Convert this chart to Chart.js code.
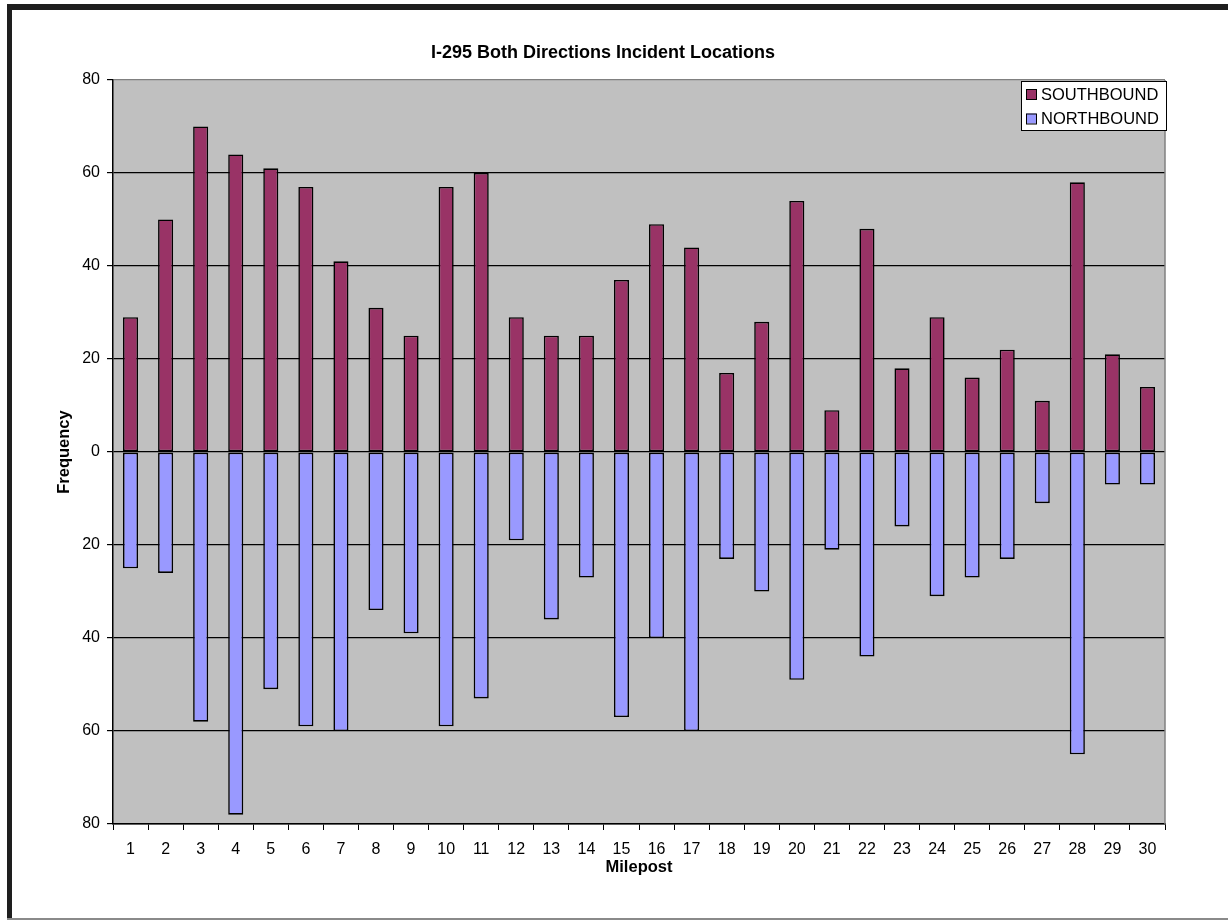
<!DOCTYPE html>
<html>
<head>
<meta charset="utf-8">
<script src="https://cdn.jsdelivr.net/npm/chart.js@4/dist/chart.umd.min.js"></script>
<style>
  html, body { margin: 0; padding: 0; background: #fff; }
  #wrap { position: relative; width: 1228px; height: 921px; overflow: hidden; }
  canvas { position: absolute; left: 0; top: 0; }
  .fr { position: absolute; }
</style>
</head>
<body>
<div id="wrap">
  <canvas id="c" width="1228" height="921"></canvas>
  <div class="fr" style="left:7px;top:4px;width:1221px;height:6px;background:#1e1e1e;"></div>
  <div class="fr" style="left:7px;top:4px;width:5px;height:916px;background:#1e1e1e;"></div>
  <div class="fr" style="left:7px;top:918px;width:1221px;height:2px;background:#8a8a8a;"></div>
</div>
<script>
const chartTitle = 'I-295 Both Directions Incident Locations';
const xAxisTitle = 'Milepost';
const yAxisTitle = 'Frequency';
const mileposts = ['1','2','3','4','5','6','7','8','9','10','11','12','13','14','15','16','17','18','19','20','21','22','23','24','25','26','27','28','29','30'];
const southbound = [29,50,70,64,61,57,41,31,25,57,60,29,25,25,37,49,44,17,28,54,9,48,18,29,16,22,11,58,21,14];
const northbound = [25,26,58,78,51,59,60,34,39,59,53,19,36,27,57,40,60,23,30,49,21,44,16,31,27,23,11,65,7,7];
const yTicks = [-80,-60,-40,-20,0,20,40,60,80];

const FONT = "'Liberation Sans', Arial, sans-serif";

const bgPlugin = {
  id: 'plotBg',
  beforeDraw(chart) {
    const {ctx, chartArea: a} = chart;
    ctx.save();
    ctx.fillStyle = '#C0C0C0';
    ctx.fillRect(a.left, a.top, a.right - a.left, a.bottom - a.top);
    ctx.restore();
  },
  beforeDatasetsDraw(chart) {
    const {ctx, chartArea: a} = chart;
    ctx.save();
    ctx.strokeStyle = '#808080';
    ctx.lineWidth = 1.5;
    ctx.beginPath();
    ctx.moveTo(a.right, a.top);
    ctx.lineTo(a.right, a.bottom);
    ctx.stroke();
    ctx.restore();
  }
};

const legendPlugin = {
  id: 'boxLegend',
  afterDraw(chart) {
    const {ctx} = chart;
    const x = 1021, y = 81, w = 145, h = 49;
    ctx.save();
    ctx.fillStyle = '#fff';
    ctx.fillRect(x, y, w, h);
    ctx.strokeStyle = '#000';
    ctx.lineWidth = 1;
    ctx.strokeRect(x + 0.5, y + 0.5, w, h);
    ctx.font = '16.5px ' + FONT;
    ctx.textBaseline = 'middle';
    ctx.textAlign = 'left';
    chart.data.datasets.forEach((ds, i) => {
      const ry = y + 8 + i * 24.5;
      ctx.fillStyle = ds.backgroundColor;
      ctx.fillRect(x + 5, ry, 10, 10);
      ctx.strokeStyle = '#000';
      ctx.strokeRect(x + 5.5, ry + 0.5, 10, 10);
      ctx.fillStyle = '#000';
      ctx.fillText(ds.label, x + 20, ry + 6);
    });
    ctx.restore();
  }
};

new Chart(document.getElementById('c'), {
  type: 'bar',
  data: {
    labels: mileposts,
    datasets: [
      {
        label: 'SOUTHBOUND',
        data: southbound,
        backgroundColor: '#993366',
        borderColor: '#000',
        borderWidth: 1.6,
        borderSkipped: false,
        barPercentage: 0.43,
        categoryPercentage: 1
      },
      {
        label: 'NORTHBOUND',
        data: northbound.map(v => -v),
        backgroundColor: '#9999FF',
        borderColor: '#000',
        borderWidth: 1.6,
        borderSkipped: false,
        barPercentage: 0.43,
        categoryPercentage: 1
      }
    ]
  },
  options: {
    responsive: false,
    animation: false,
    devicePixelRatio: 1,
    layout: { padding: { left: 41, right: 63, top: 0, bottom: 0 } },
    plugins: {
      legend: { display: false },
      tooltip: { enabled: false },
      title: {
        display: true,
        text: chartTitle,
        color: '#000',
        font: { family: FONT, size: 18, weight: 'bold' },
        padding: { top: 42.2, bottom: 16.2 }
      }
    },
    scales: {
      x: {
        stacked: true,
        offset: true,
        grid: {
          display: true,
          drawOnChartArea: false,
          drawTicks: true,
          tickLength: 6,
          offset: true,
          color: '#000',
          lineWidth: 1
        },
        border: { display: true, color: '#000', width: 1.5 },
        ticks: {
          color: '#000',
          font: { family: FONT, size: 16 },
          padding: 10,
          maxRotation: 0,
          autoSkip: false
        },
        title: {
          display: true,
          text: xAxisTitle,
          color: '#000',
          font: { family: FONT, size: 16.5, weight: 'bold' },
          padding: { top: 0, bottom: 44 }
        },
        afterFit(s) { s.height = 97; }
      },
      y: {
        stacked: true,
        min: -80,
        max: 80,
        afterBuildTicks(s) { s.ticks = yTicks.map(v => ({ value: v })); },
        grid: {
          color: (c) => (c.tick && c.tick.value === 80) ? '#808080' : '#000',
          tickColor: '#000',
          lineWidth: 1.2,
          tickLength: 6,
          drawTicks: true
        },
        border: { display: true, color: '#000', width: 1.5 },
        ticks: {
          color: '#000',
          font: { family: FONT, size: 16 },
          padding: 7,
          callback: (v) => Math.abs(v)
        },
        title: {
          display: true,
          text: yAxisTitle,
          color: '#000',
          font: { family: FONT, size: 16.5, weight: 'bold' },
          padding: { top: 14, bottom: 0 }
        },
        afterFit(s) { s.width = 72; }
      }
    }
  },
  plugins: [bgPlugin, legendPlugin]
});
</script>
</body>
</html>
